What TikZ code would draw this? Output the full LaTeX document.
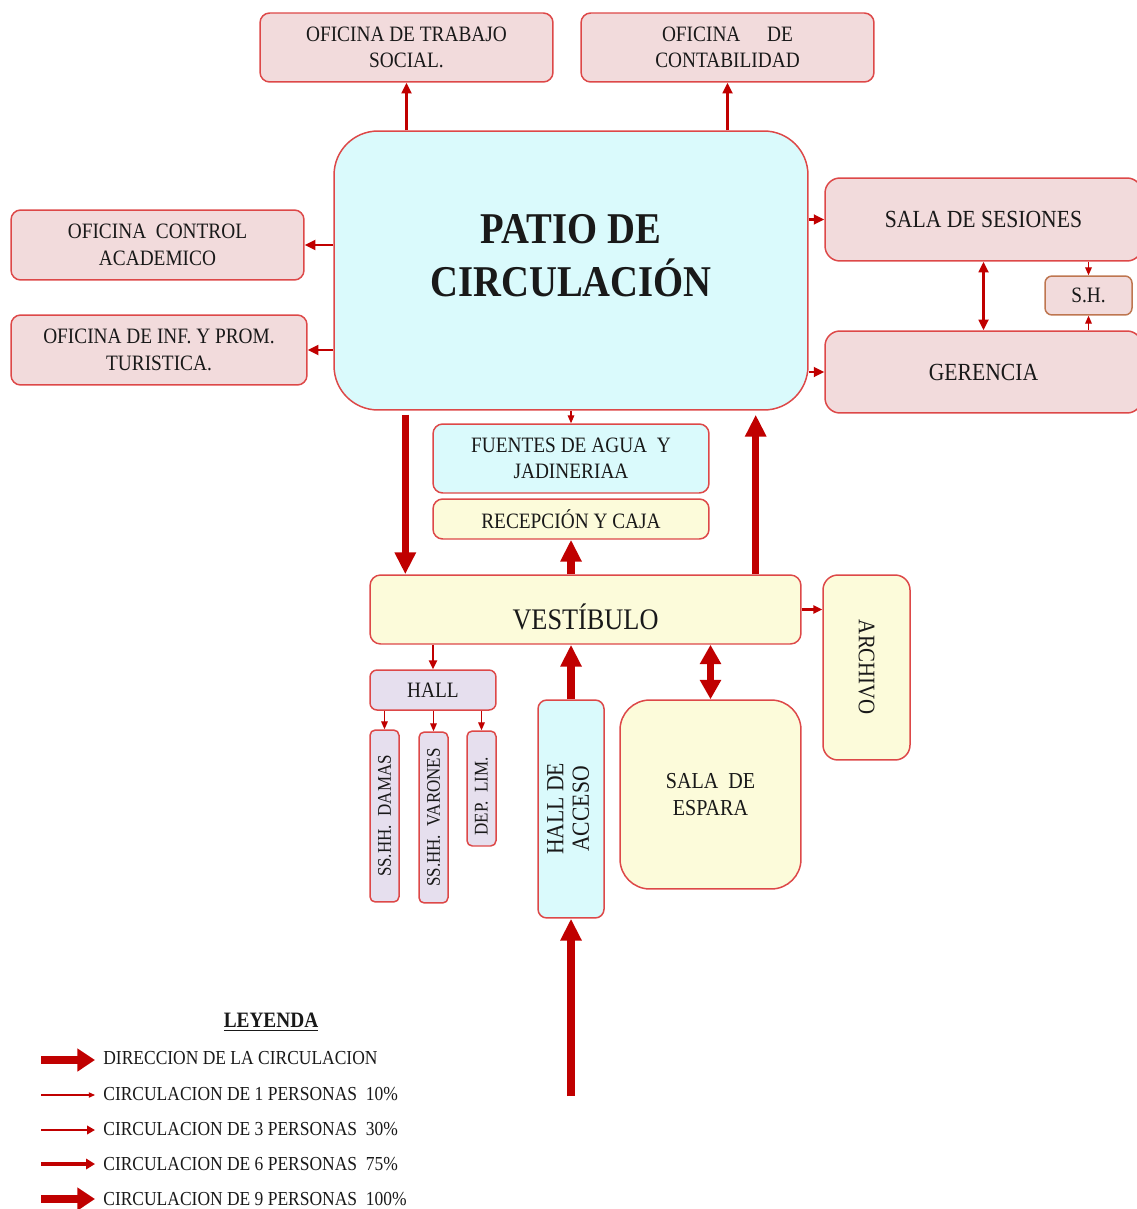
\documentclass[tikz,border=0pt]{standalone}
\usepackage{fontspec}
\setmainfont{Liberation Serif}[FakeStretch=0.88]
\usetikzlibrary{arrows.meta,calc}
\definecolor{pinkf}{RGB}{242,219,220}
\definecolor{redb}{RGB}{221,72,72}
\definecolor{cyanf}{RGB}{218,250,252}
\definecolor{yellf}{RGB}{252,251,218}
\definecolor{lavf}{RGB}{230,223,238}
\definecolor{shb}{RGB}{190,118,80}
\definecolor{arr}{RGB}{192,0,0}
\definecolor{txt}{RGB}{25,25,25}
\tikzset{
  box/.style={draw=redb, line width=0.85pt, inner sep=0pt, align=center, text=txt, anchor=center},
  pinkbox/.style={box, fill=pinkf, rounded corners=5.5pt},
  t12/.style={font=\fontsize{12.5}{15}\selectfont},
  t14/.style={font=\fontsize{14}{17}\selectfont},
  aone/.style={draw=arr, line width=0.6pt, -{Triangle[length=4.5pt,width=3.8pt]}},
  athree/.style={draw=arr, line width=1.2pt, -{Triangle[length=5pt,width=4.5pt]}},
  asix/.style={draw=arr, line width=1.7pt, -{Triangle[length=6pt,width=5.5pt]}},
  abig/.style={draw=arr, line width=4pt, -{Triangle[length=12.5pt,width=11.5pt]}},
  dbig/.style={draw=arr, line width=4pt, {Triangle[length=11pt,width=11.5pt]}-{Triangle[length=11pt,width=11.5pt]}},
  dsix/.style={draw=arr, line width=1.7pt, {Triangle[length=6pt,width=5.5pt]}-{Triangle[length=6pt,width=5.5pt]}},
  legtext/.style={anchor=west, inner sep=0pt, text=txt, font=\fontsize{11.3}{13}\selectfont},
}
\begin{document}
\begin{tikzpicture}[x=0.02cm, y=-0.02cm]
\useasboundingbox (0,0) rectangle (1136,1209);

% top offices
\node[pinkbox, t12, minimum width=5.86cm, minimum height=1.38cm] (ts) at (406.5,47.5) {OFICINA DE TRABAJO\\SOCIAL.};
\node[pinkbox, t12, minimum width=5.86cm, minimum height=1.38cm] (ct) at (727.5,47.5) {OFICINA\quad\ DE\\CONTABILIDAD};

% patio
\node[box, fill=cyanf, rounded corners=25pt, minimum width=9.48cm, minimum height=5.58cm, font=\bfseries\fontsize{25}{30}\selectfont] (patio) at (571,270.5)
  {\raisebox{6.3pt}[\height][\depth]{\begin{tabular}{@{}c@{}}PATIO DE\\CIRCULACIÓN\end{tabular}}};

% left offices
\node[pinkbox, t12, minimum width=5.86cm, minimum height=1.4cm] (ctrl) at (157.5,245) {OFICINA~ CONTROL\\ACADEMICO};
\node[pinkbox, t12, minimum width=5.92cm, minimum height=1.4cm] (inf) at (159,350) {OFICINA DE INF. Y PROM.\\TURISTICA.};

% right side
\node[pinkbox, t14, rounded corners=8.5pt, minimum width=6.34cm, minimum height=1.66cm] (sala) at (983.5,219.5) {SALA DE SESIONES};
\node[pinkbox, t14, rounded corners=8.5pt, minimum width=6.34cm, minimum height=1.64cm] (ger) at (983.5,372) {GERENCIA};
\node[pinkbox, t12, draw=shb, rounded corners=4pt, minimum width=1.74cm, minimum height=0.78cm] (sh) at (1088.5,295.5) {S.H.};

% center column
\node[box, fill=cyanf, t12, rounded corners=5.5pt, minimum width=5.52cm, minimum height=1.38cm] (fu) at (571,458.5) {FUENTES DE AGUA~ Y\\JADINERIAA};
\node[box, fill=yellf, t12, rounded corners=5.5pt, minimum width=5.52cm, minimum height=0.8cm] (rec) at (571,519) {RECEPCIÓN Y CAJA};
\node[box, fill=yellf, rounded corners=6pt, minimum width=8.62cm, minimum height=1.38cm, font=\fontsize{17}{20}\selectfont] (vest) at (585.5,609.5)
  {\raisebox{-4pt}[\height][\depth]{VESTÍBULO}};
\node[box, fill=yellf, rounded corners=8.5pt, minimum width=1.74cm, minimum height=3.7cm, font=\fontsize{13.5}{16}\selectfont] (arch) at (866.5,667.5)
  {\rotatebox{-90}{ARCHIVO}};

% hall and services
\node[box, fill=lavf, t12, rounded corners=4pt, minimum width=2.52cm, minimum height=0.8cm] (hall) at (433,690) {HALL};
\node[box, fill=lavf, rounded corners=3pt, minimum width=0.58cm, minimum height=3.44cm, font=\fontsize{11}{13}\selectfont] (dam) at (384.5,816)
  {\rotatebox{90}{SS.HH.~ DAMAS}};
\node[box, fill=lavf, rounded corners=3pt, minimum width=0.58cm, minimum height=3.42cm, font=\fontsize{11}{13}\selectfont] (var) at (433.5,817.5)
  {\rotatebox{90}{SS.HH.~ VARONES}};
\node[box, fill=lavf, rounded corners=3pt, minimum width=0.58cm, minimum height=2.3cm, font=\fontsize{11}{13}\selectfont] (dep) at (481.5,788.5)
  {\raisebox{-4.5pt}[\height][\depth]{\rotatebox{90}{DEP.~ LIM.}}};

\node[box, fill=cyanf, rounded corners=5pt, minimum width=1.32cm, minimum height=4.36cm, font=\fontsize{14}{14.5}\selectfont] (acc) at (571,809)
  {\rotatebox{90}{\begin{tabular}{@{}c@{}}HALL DE\\ACCESO\end{tabular}}};
\node[box, fill=yellf, rounded corners=17pt, minimum width=3.62cm, minimum height=3.78cm, font=\fontsize{13}{15.5}\selectfont] (esp) at (710.5,794.5)
  {SALA~ DE\\ESPARA};

\coordinate (entry) at (571,1096);

% connectors from patio
\draw[asix] (patio.north -| ts.south) -- (ts.south);
\draw[asix] (patio.north -| ct.south) -- (ct.south);
\draw[asix] (patio.west |- ctrl.east) -- (ctrl.east);
\draw[asix] (patio.west |- inf.east) -- (inf.east);
\draw[asix] (patio.east |- sala.west) -- (sala.west);
\draw[asix] (patio.east |- ger.west) -- (ger.west);
\draw[dsix] (sala.south) -- (ger.north);
\draw[aone] (sala.south -| sh.north) -- (sh.north);
\draw[aone] (ger.north -| sh.south) -- (sh.south);
\draw[aone] (patio.south) -- (fu.north);

\draw[abig] ($(patio.south -| vest.north west)+(36,4)$) -- ($(vest.north west)+(36,0)$);
\draw[abig] ($(vest.north east)+(-46,0)$) -- ($(patio.south -| vest.north east)+(-46,4)$);
\draw[abig] (vest.north -| rec.south) -- (rec.south);
\draw[athree] (vest.east) -- (vest.east -| arch.west);
\draw[athree] (vest.south -| hall.north) -- (hall.north);
\draw[aone] (hall.south -| dam.north) -- (dam.north);
\draw[aone] (hall.south -| var.north) -- (var.north);
\draw[aone] (hall.south -| dep.north) -- (dep.north);
\draw[abig] (acc.north) -- (vest.south -| acc.north);
\draw[dbig] (vest.south -| esp.north) -- (esp.north);
\draw[abig] (entry) -- (acc.south);

% legend
\node[inner sep=0pt, text=txt, font=\bfseries\fontsize{12.5}{15}\selectfont] (ley) at (271,1022) {\underline{LEYENDA}};
\coordinate (l1a) at (41,1060); \coordinate (l1b) at (95,1060);
\coordinate (l2a) at (41,1095); \coordinate (l2b) at (95,1095);
\coordinate (l3a) at (41,1130); \coordinate (l3b) at (95,1130);
\coordinate (l4a) at (41,1164); \coordinate (l4b) at (95,1164);
\coordinate (l5a) at (41,1199); \coordinate (l5b) at (95,1199);
\draw[draw=arr, line width=4.5pt, -{Triangle[length=10pt,width=12.5pt]}] (l1a) -- (l1b);
\draw[draw=arr, line width=0.6pt, -{Triangle[length=3.5pt,width=3pt]}] (l2a) -- (l2b);
\draw[draw=arr, line width=1.5pt, -{Triangle[length=4.5pt,width=4.8pt]}] (l3a) -- (l3b);
\draw[draw=arr, line width=2.1pt, -{Triangle[length=5pt,width=5.8pt]}] (l4a) -- (l4b);
\draw[draw=arr, line width=4.5pt, -{Triangle[length=10pt,width=12.5pt]}] (l5a) -- (l5b);
\node[legtext] (lt1) at (103,1058) {DIRECCION DE LA CIRCULACION};
\node[legtext] (lt2) at (103,1094) {CIRCULACION DE 1 PERSONAS~ 10\%};
\node[legtext] (lt3) at (103,1129) {CIRCULACION DE 3 PERSONAS~ 30\%};
\node[legtext] (lt4) at (103,1164) {CIRCULACION DE 6 PERSONAS~ 75\%};
\node[legtext] (lt5) at (103,1199) {CIRCULACION DE 9 PERSONAS~ 100\%};
\end{tikzpicture}
\end{document}
